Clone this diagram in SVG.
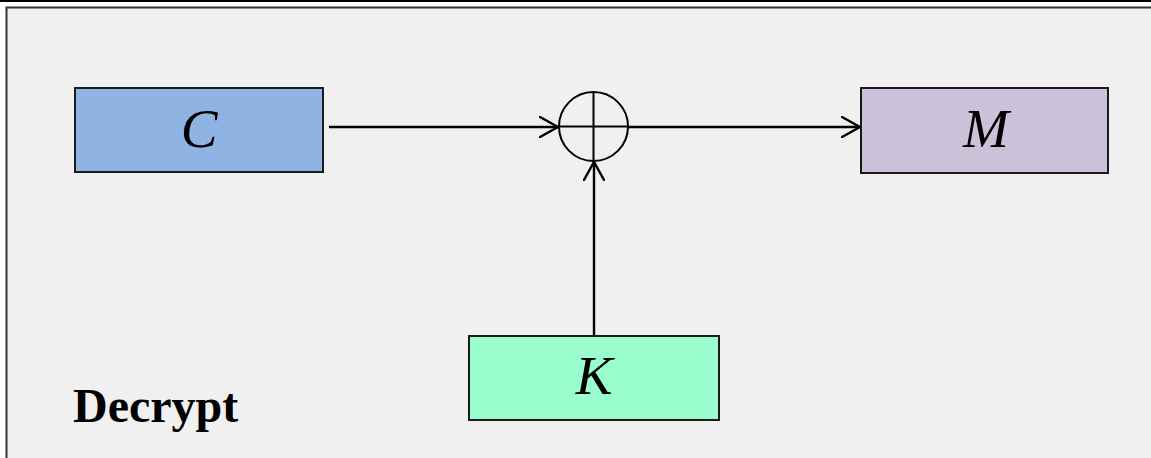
<svg xmlns="http://www.w3.org/2000/svg" width="1151" height="458" viewBox="0 0 1151 458">
<defs>
<style>
.box{stroke:#1a1a1a;stroke-width:2}
.lbl{font-family:"Liberation Serif","DejaVu Serif",serif;font-style:italic;font-size:55px;fill:#000;text-anchor:middle}
.edge{stroke:#000;stroke-width:2.4;fill:none}
</style>
<marker id="arr" viewBox="0 0 20 22" refX="19" refY="11" markerWidth="20" markerHeight="22" markerUnits="userSpaceOnUse" orient="auto">
<path d="M1,1 L19,11 L1,21" fill="none" stroke="#000" stroke-width="2.4" stroke-linecap="round" stroke-linejoin="miter"/>
</marker>
</defs>
<rect x="0" y="0" width="1151" height="458" fill="#ffffff"/>
<line x1="0" y1="1" x2="1151" y2="1" stroke="#000" stroke-width="2"/>
<rect x="6.5" y="7.5" width="1200" height="500" fill="#f0f0f0" stroke="#333" stroke-width="2"/>
<g id="connectors">
<line class="edge" x1="329" y1="127" x2="558" y2="127" marker-end="url(#arr)"/>
<line class="edge" x1="628" y1="127" x2="860" y2="127" marker-end="url(#arr)"/>
<line class="edge" x1="594" y1="336" x2="594" y2="162" marker-end="url(#arr)"/>
</g>
<g id="node-C">
<rect class="box" x="75" y="88" width="248" height="84" fill="#8fb3e2"/>
<text class="lbl" x="199" y="147">C</text>
</g>
<g id="node-xor">
<circle cx="593.5" cy="126.5" r="34.5" fill="none" stroke="#000" stroke-width="2"/>
<line x1="593.5" y1="92" x2="593.5" y2="161" stroke="#000" stroke-width="2"/>
<line x1="559" y1="126.5" x2="628" y2="126.5" stroke="#000" stroke-width="2"/>
</g>
<g id="node-M">
<rect class="box" x="861" y="88" width="247" height="85" fill="#cbc2da"/>
<text class="lbl" x="986" y="147">M</text>
</g>
<g id="node-K">
<rect class="box" x="469" y="336" width="250" height="84" fill="#9afdcd"/>
<text class="lbl" x="594" y="394">K</text>
</g>
<text x="73" y="422" font-family="'Liberation Serif','DejaVu Serif',serif" font-weight="bold" font-size="48" fill="#000">Decrypt</text>
</svg>
